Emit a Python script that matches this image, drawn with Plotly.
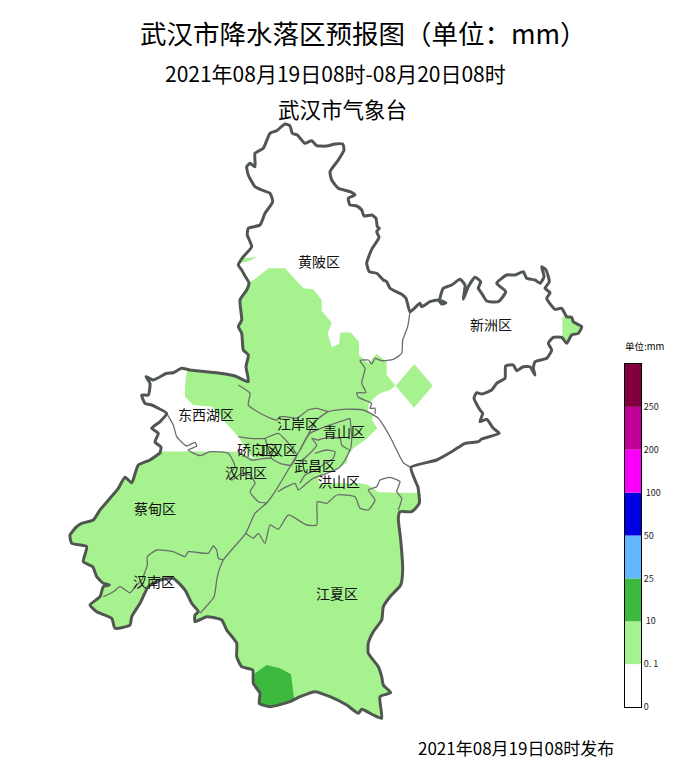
import plotly.graph_objects as go

# all map coordinates (x to the right, y downward)
BORDER_NORTH = [(249, 283), (245, 276), (241.7, 270), (238.3, 265), (243.3, 256.7), (251.7, 246.7), (247.3, 235),
                (248.3, 228.3), (260, 225), (265, 213.3), (272.7, 201.7), (270, 193.3), (261.7, 190), (255, 186.7),
                (248.3, 175), (246.7, 166.7), (250, 163.3), (255, 166.7), (255, 153.3), (263.3, 148.3), (270, 133.3),
                (276.7, 130.7), (285, 124), (290, 126), (292.3, 133.3), (297.3, 135), (305, 143.3), (311.7, 140.7),
                (316.7, 145.7), (326.7, 146), (335, 144), (342.7, 144), (344, 150), (338.3, 160), (330, 171.7),
                (331.7, 180), (338.3, 188.3), (350, 191.7), (355, 195), (348.3, 198.3), (350, 205), (356.7, 206),
                (361.7, 210), (364, 216), (371.7, 215), (376, 218.3), (377.3, 226.7), (379.3, 228.3), (376.7, 231.7),
                (379, 237.3), (371.7, 249.3), (366.7, 263.3), (369.3, 271.7),
                (376.7, 273.3), (383.3, 280), (386.7, 281.7), (390, 288.3), (401.7, 294.3), (406, 298.3),
                (410, 311.7), (420, 303.3), (421.7, 306.7), (430, 301.7), (438.3, 300), (441.7, 304), (446, 302.7),
                (440, 300), (443.3, 288.3), (451.7, 285), (460, 279.3), (465, 285), (463.3, 299.3), (468.3, 286.7),
                (475, 277.3), (480.7, 281.7), (478.3, 288.3), (481.7, 293.3), (486.7, 301), (498.3, 301.7),
                (505.7, 291.7), (496.7, 283.3), (506.7, 275), (515, 275), (523.3, 271.7), (526.7, 278.3), (535, 280),
                (540, 283.3), (544, 276.7), (541.7, 266.7), (546, 270), (549.3, 281.7), (545, 288.3), (550, 292.7),
                (546.7, 298.3), (555, 309.3), (561.7, 308.3), (566.7, 316.7), (571.7, 317.3), (573.3, 321.7),
                (581.7, 326.7), (578.3, 333.3), (571.7, 335), (566.7, 343.3), (561.7, 337.3), (553.3, 337.3),
                (548.3, 343.3), (551.7, 350), (546.7, 358.3), (535, 361.7), (533.3, 368.3), (535, 375), (530, 366.7),
                (523.3, 366.7), (516.7, 370.7), (513.3, 365), (505.7, 366), (505, 378.3), (496.7, 383.3), (491.7, 390),
                (481.7, 394), (476.7, 392.7), (474, 398.3), (480, 410), (482.7, 413.3), (480, 421.7), (486.7, 419.3),
                (493.3, 428.3), (499.3, 433.3), (481.7, 439), (478.3, 441.7), (465, 443.3), (453.3, 450.7),
                (436.7, 460), (411, 467.3), (415, 480), (418, 487)]
BORDER_SOUTH = [(418, 487), (419.3, 503.3), (411.7, 511.7), (400, 511.7), (398.3, 518.3), (400.7, 540), (402.7, 570),
                (400.7, 585), (390, 596.7), (383.3, 606.7), (381.7, 620), (373.3, 631.7), (368.3, 643.3),
                (368.3, 653.3), (378.3, 666.7), (381.7, 676.7), (383.3, 685), (390.7, 692.7), (380, 696.7),
                (381.7, 718.3), (373.3, 715), (361.7, 709.3), (358.3, 713.3), (346.7, 705), (330, 696.7), (315, 691.7),
                (300, 696.7), (290, 701.7), (270, 706.7), (259.3, 703.3), (260, 693.3), (253.3, 683.3), (252.7, 670),
                (241.7, 666.7), (236.7, 656.7), (236.7, 643.3), (226.7, 630), (221.7, 620), (206.7, 616.7),
                (195, 621.7), (195, 615), (198.3, 611.7), (191.7, 603.3), (185, 590), (173.3, 578.3), (160, 580),
                (148.3, 586.7), (140, 603.3), (131.7, 616.7), (130, 625), (115, 628.3), (111.7, 618.3), (96.7, 611.7),
                (90, 605), (100, 596.7), (103.3, 586.7), (109.3, 585), (103.3, 583.3), (96.7, 576.7), (92.7, 566.7),
                (83.3, 561.7), (86.7, 546.7), (71.7, 543.3), (70, 535), (76.7, 526.7), (81.7, 523.3), (93.3, 520),
                (100, 510), (110, 498.3), (118.3, 488.3), (125, 477.3), (131.7, 482.7), (138.3, 465), (150, 460),
                (160, 453)]
BORDER_WEST = [(160, 453), (161, 447), (155, 442), (158.3, 433.3), (151.7, 428.3), (160, 421.7), (166.7, 413.3),
               (158.3, 408.3), (151.7, 405), (145, 403.3), (141.7, 395), (148.3, 395), (150, 383.3), (146, 376.7),
               (153.3, 380), (166.7, 373.3), (173.3, 372.7), (181.7, 368.3), (190, 370)]
BORDER_TOP = [(190, 370), (220, 373.3), (235, 376), (248.3, 381.7), (246, 366.7), (248.3, 355), (243.3, 350),
              (241.7, 333.3), (238.3, 326.7), (241.7, 320), (240, 300), (246.7, 290), (249, 283)]

# edges of the rain areas, inside the border
RAIN_EDGE_EAST = [(249, 283), (258, 276.7), (268.3, 268.3), (285, 268.3), (303.3, 288.3), (313.3, 289.3),
                  (321.7, 300), (321.7, 310.7), (331.7, 322.7), (327.7, 333.3), (331.7, 347.3), (339.3, 344),
                  (340, 332.5), (350.7, 332.5), (359, 341.7), (359, 355), (368.3, 363.3), (376.7, 354), (386.7, 361.7),
                  (386.7, 375), (395.5, 385.7), (390, 390), (380, 393.3), (372, 400), (368.3, 405), (368.3, 413.3),
                  (373, 415), (372, 420), (377.3, 428.3), (365, 440), (353.3, 448.3), (348.3, 455), (346.7, 463.3),
                  (335, 470), (323.3, 473.3), (318.3, 478.3), (318.3, 483.3), (360, 483.3), (368.3, 485),
                  (378.3, 492.3), (417, 493)]
RAIN_EDGE_WEST = [(162, 451.5), (226.7, 451.5), (238, 452), (256.7, 460), (250, 455), (238.3, 436.7), (225, 421.7),
                  (211.7, 406.7), (193.3, 405), (185, 396.7), (185, 386.7), (186.7, 371)]
RAIN_SLIVER = [(243, 258), (257, 257.3), (246.7, 261.7), (240, 263)]
RAIN_DIAMOND = [(414.3, 364), (432.7, 385.7), (414, 407.7), (395.7, 385.7)]
RAIN_TIP = [(562.3, 316.7), (566.7, 316.7), (571.7, 317.3), (573.3, 321.7), (581.7, 326.7), (578.3, 333.3),
            (571.7, 335), (566.7, 343.3), (562.3, 338)]
HEAVY_RAIN = [(255, 673.3), (266.7, 665), (280, 668.3), (291, 674.3), (294, 698.3), (290, 701.7), (270, 706.7),
              (259.3, 703.3), (260, 693.3), (253.3, 683.3)]

# district lines
DISTRICT_LINES = [
    [(410, 311.7), (407.7, 326.7), (402.7, 340), (401.7, 353.3), (393.3, 359.3), (381.7, 360.7), (375, 358.3),
     (371.7, 364), (368.3, 360), (360, 360.7), (365, 368.3), (361.7, 383.3), (366, 392.7), (356.7, 392.7),
     (358.3, 397.3), (371.7, 403.3), (370, 408.3), (375, 408.3), (375, 414)],
    [(411, 467.3), (403.3, 462.7), (395, 446.7), (390, 436.7), (378.3, 418.3), (363.3, 410), (343.3, 409.3),
     (328.3, 411.7), (316.7, 420), (300, 450), (295, 458.3), (275, 491.7), (266.7, 503), (255, 513.3),
     (245.7, 533.3), (223.3, 560), (217.3, 576.7), (214, 596.7), (200, 613.3)],
    [(223.3, 560), (218.3, 558.3), (216.7, 550), (213.3, 546), (208.3, 553.3), (188.3, 551.7), (185, 556.7),
     (173.3, 551.7), (156.7, 550), (147.3, 556.7), (147.3, 565), (141.7, 580), (135, 586.7), (130, 592.7),
     (120, 586.7), (113.3, 591.7), (103.3, 596.7)],
    [(166.7, 413.3), (173.3, 425), (176.7, 436.7), (186.7, 446), (195, 442.3), (196.7, 446), (188.3, 450),
     (200, 455.7), (210, 451.7), (228.3, 453.3), (235, 466.7), (228.3, 475), (231.7, 480), (241.7, 473.3),
     (250, 475), (255, 483.3), (250, 491.7), (258.3, 501.7), (266.7, 503)],
    [(238.3, 385), (250, 393.3), (248.3, 405), (263.3, 415), (276.7, 420), (280, 416.7), (285, 416.7), (296.7, 418.3),
     (308.3, 410), (316.7, 408.3), (328.3, 411.7)],
    [(238.3, 436.7), (250, 438.3), (265, 438.3), (278.3, 433.3), (296.7, 455), (291.7, 465)],
    [(265, 438.3), (268.3, 448.3), (271.7, 458.3), (280, 463.3), (291.7, 465.7)],
    [(238.3, 451.7), (251.7, 460), (265, 458.3), (271.7, 458.3)],
    [(350, 418.3), (310, 433.3), (300, 450)],
    [(350, 418.3), (351.7, 438.3), (350, 450), (341.7, 445), (340, 438.3), (323.3, 438.3), (318.3, 440),
     (311.7, 438.3), (316.7, 445), (310, 453.3), (300, 462)],
    [(315, 453.3), (326.7, 450), (335, 451.7), (333.3, 458.3), (325, 463.3), (316, 470), (305, 475), (300, 483.3)],
    [(278, 491.7), (286.7, 486.7), (295, 483.3), (298.3, 490), (306.7, 483.3), (313.3, 478.3), (326.7, 473.3),
     (338.3, 468.3), (345, 460), (350, 450)],
    [(245.7, 533.3), (253.3, 538.3), (258.3, 533.3), (265, 543.3), (270, 525), (278.3, 529.3), (288.3, 515),
     (306.7, 525), (316.7, 525), (317.3, 501.7), (326.7, 503.3), (336.7, 495), (355, 496.7), (360, 508.3),
     (368.3, 510), (375, 500), (368.3, 490), (376.7, 486.7), (380, 480), (390, 477.3), (400, 481.7), (396.7, 491.7),
     (401.7, 498.3), (398.3, 510)],
]

DISTRICT_NAMES = ["黄陂区", "新洲区", "东西湖区", "江岸区", "青山区", "硚口区", "江汉区", "汉阳区", "武昌区", "洪山区",
                  "蔡甸区", "汉南区", "江夏区"]
DISTRICT_X = [319, 491, 206, 298, 344, 258, 276, 246, 315, 339, 155, 154, 337]
DISTRICT_Y = [263, 326, 416, 425, 433, 451, 451, 474, 467, 483, 510, 583, 595]

LEGEND_COLORS = ["#ffffff", "#a6f28f", "#3dba3d", "#61b8ff", "#0000e1", "#fa00fa", "#c00096", "#800040"]
LEGEND_LABELS = ["0", "0. 1", " 10", "25", "50", " 100", "200", "250"]

FONT = "Noto Sans CJK SC"
GREEN = "#a6f28f"
DARK_GREEN = "#3dba3d"


def xs(points):
    return [p[0] for p in points]


def ys(points):
    return [p[1] for p in points]


def area(points, color):
    return go.Scatter(x=xs(points), y=ys(points), mode="lines", fill="toself", fillcolor=color,
                      line=dict(width=0), hoverinfo="skip", showlegend=False)


fig = go.Figure()

main_rain = RAIN_EDGE_EAST + BORDER_SOUTH + RAIN_EDGE_WEST + BORDER_TOP
fig.add_trace(area(main_rain, GREEN))
fig.add_trace(area(RAIN_SLIVER, GREEN))
fig.add_trace(area(RAIN_DIAMOND, GREEN))
fig.add_trace(area(RAIN_TIP, GREEN))
fig.add_trace(area(HEAVY_RAIN, DARK_GREEN))

for line in DISTRICT_LINES:
    fig.add_trace(go.Scatter(x=xs(line), y=ys(line), mode="lines",
                             line=dict(color="#6a6e6a", width=1.3, shape="spline", smoothing=0.5),
                             hoverinfo="skip", showlegend=False))

border = BORDER_NORTH + BORDER_SOUTH + BORDER_WEST + BORDER_TOP
fig.add_trace(go.Scatter(x=xs(border), y=ys(border), mode="lines",
                         line=dict(color="#505650", width=3, shape="spline", smoothing=0.5),
                         hoverinfo="skip", showlegend=False))

fig.add_trace(go.Scatter(x=DISTRICT_X, y=DISTRICT_Y, mode="text", text=DISTRICT_NAMES,
                         textfont=dict(family=FONT, size=14, color="#111111"), hoverinfo="skip", showlegend=False))

# colour scale on its own small axes
for i, c in enumerate(LEGEND_COLORS):
    fig.add_trace(go.Bar(x=[0], y=[1], base=[i], marker=dict(color=c, line=dict(width=0)), width=1,
                         xaxis="x2", yaxis="y2", hoverinfo="skip", showlegend=False))

titles = [("武汉市降水落区预报图（单位：mm）", 363, 32, 26.5),
          ("2021年08月19日08时-08月20日08时", 335, 73, 21),
          ("武汉市气象台", 342, 108, 21.5),
          ("2021年08月19日08时发布", 516, 747, 17),
          ("单位:mm", 644, 346, 9.5)]
annotations = [dict(text=t, x=x, y=y, xref="x", yref="y", showarrow=False, xanchor="center", yanchor="middle",
                    font=dict(family=FONT, size=s, color="#000000")) for t, x, y, s in titles]

fig.update_layout(
    width=695, height=777, margin=dict(l=0, r=0, t=0, b=0),
    paper_bgcolor="white", plot_bgcolor="white", barmode="overlay", annotations=annotations,
    xaxis=dict(range=[0, 695], visible=False, domain=[0, 1], automargin=False),
    yaxis=dict(range=[777, 0], visible=False, domain=[0, 1], automargin=False),
    xaxis2=dict(range=[-0.5, 0.5], domain=[625 / 695, 641 / 695], anchor="y2", showticklabels=False, automargin=False,
                showgrid=False, zeroline=False, ticks="", showline=True, linecolor="black", linewidth=1, mirror=True),
    yaxis2=dict(range=[0, 8], domain=[70 / 777, 413 / 777], anchor="x2", side="right", tickmode="array",
                tickvals=list(range(8)), ticktext=LEGEND_LABELS, ticks="", showgrid=False, zeroline=False,
                automargin=False, showline=True, linecolor="black", linewidth=1, mirror=True,
                tickfont=dict(family=FONT, size=9, color="#222222")),
)

fig.write_html("out.html", config=dict(displayModeBar=False), post_script="document.body.style.margin='0';")
